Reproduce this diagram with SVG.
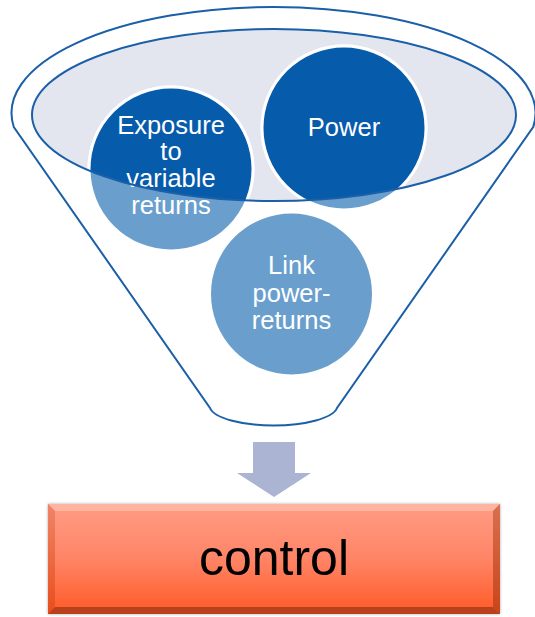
<svg xmlns="http://www.w3.org/2000/svg" width="535" height="617" viewBox="0 0 535 617">
  <defs>
    <style>
      .outline { fill: none; stroke: #1a5fa8; stroke-width: 2; }
      .bubble-light { fill: #6a9fcd; stroke: #ffffff; stroke-width: 3; }
      .bubble-dark { fill: #075bab; stroke: #ffffff; stroke-width: 3; }
      .label { font-family: "Liberation Sans", Arial, sans-serif; font-size: 25.5px; fill: #ffffff; text-anchor: middle; }
      .result { font-family: "Liberation Sans", Arial, sans-serif; font-size: 50px; fill: #000000; text-anchor: middle; }
    </style>
    <clipPath id="rimClip">
      <ellipse cx="274" cy="115" rx="242" ry="86"/>
    </clipPath>
    <linearGradient id="faceGrad" x1="0" y1="0" x2="0" y2="1">
      <stop offset="0" stop-color="#ff9c84"/>
      <stop offset="0.5" stop-color="#ff8466"/>
      <stop offset="1" stop-color="#ff5a26"/>
    </linearGradient>
    <linearGradient id="sideGrad" x1="0" y1="0" x2="0" y2="1">
      <stop offset="0" stop-color="#f08468"/>
      <stop offset="1" stop-color="#e84e1c"/>
    </linearGradient>
    <linearGradient id="sideGradR" x1="0" y1="0" x2="0" y2="1">
      <stop offset="0" stop-color="#d8704f"/>
      <stop offset="1" stop-color="#c8441a"/>
    </linearGradient>
    <filter id="boxShadow" x="-5%" y="-10%" width="110%" height="120%">
      <feGaussianBlur in="SourceAlpha" stdDeviation="1.5"/>
      <feOffset dx="0" dy="0" result="b"/>
      <feComponentTransfer><feFuncA type="linear" slope="0.35"/></feComponentTransfer>
      <feMerge><feMergeNode/><feMergeNode in="SourceGraphic"/></feMerge>
    </filter>
  </defs>

  <!-- funnel body -->
  <g id="funnel">
    <path d="M13.8,127 A262,106 0 1 1 533.2,127 L337,408 A64,20 0 0 1 210,408 Z" fill="#ffffff" stroke="#1a5fa8" stroke-width="2"/>
    <ellipse cx="274" cy="115" rx="242" ry="86" fill="#e3e6ef"/>
  </g>

  <!-- items in the funnel -->
  <g id="node-exposure">
    <circle class="bubble-light" cx="171" cy="169" r="82"/>
    <circle class="bubble-dark" cx="171" cy="169" r="82" clip-path="url(#rimClip)"/>
    <text class="label" x="171" y="133.5">Exposure</text>
    <text class="label" x="171" y="160">to</text>
    <text class="label" x="171" y="187">variable</text>
    <text class="label" x="171" y="213.5">returns</text>
  </g>

  <g id="node-power">
    <circle class="bubble-light" cx="344" cy="128" r="82"/>
    <circle class="bubble-dark" cx="344" cy="128" r="82" clip-path="url(#rimClip)"/>
    <text class="label" x="344" y="136">Power</text>
  </g>

  <g id="node-link">
    <circle class="bubble-light" cx="291.5" cy="294" r="82"/>
    <text class="label" x="291.5" y="274">Link</text>
    <text class="label" x="291.5" y="301.5">power-</text>
    <text class="label" x="291.5" y="329">returns</text>
  </g>

  <!-- rim line of the funnel opening, over the items -->
  <g id="rim">
    <ellipse class="outline" cx="274" cy="115" rx="242" ry="86"/>
  </g>

  <!-- connector -->
  <g id="connectors">
    <path d="M253,442 H295 V473 H311 L274,497 L237,473 H253 Z" fill="#abb5d3"/>
  </g>

  <!-- result box -->
  <g id="node-control" filter="url(#boxShadow)">
    <rect x="48" y="504" width="452" height="110" fill="url(#faceGrad)"/>
    <!-- bevel edges -->
    <polygon points="48,504 500,504 493,511 55,511" fill="#ffb4a0"/>
    <polygon points="48,504 55,511 55,607 48,614" fill="url(#sideGrad)"/>
    <polygon points="500,504 500,614 493,607 493,511" fill="url(#sideGradR)"/>
    <polygon points="48,614 55,607 493,607 500,614" fill="#b8401a"/>
    <text class="result" x="274" y="575">control</text>
  </g>
</svg>
